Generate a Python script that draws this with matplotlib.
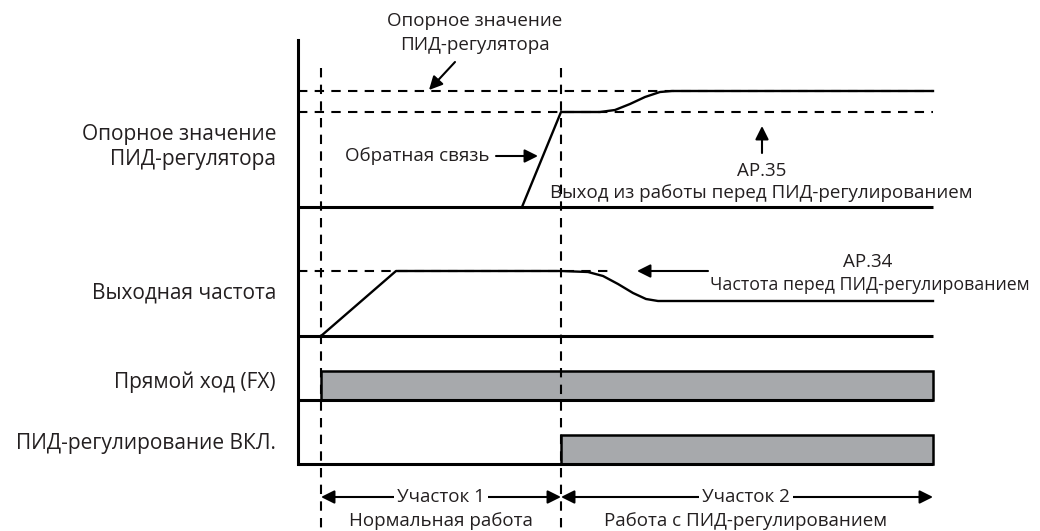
import matplotlib.pyplot as plt
from matplotlib.patches import Rectangle

plt.rcParams['font.family'] = ['Open Sans', 'DejaVu Sans']

# time marks (x, px) and signal levels (y, px)
t_start, t_pid, t_end = 321, 561, 933
axis_x, axis_top, axis_bottom = 298, 40, 464

# row 1: setpoint / feedback
sp_ref, sp_exit, sp_base = 91, 112, 207
fb_t = [522, 561, 600, 615, 630, 645, 660, 672, 933]
fb_lvl = [207, 112, 112, 110, 104, 97, 92, 91, 91]

# row 2: output frequency
fr_base, fr_run = 336, 271
fr_t = [321, 396, 561, 588, 603, 618, 633, 646, 658, 933]
fr_lvl = [336, 271, 271, 272, 276, 284, 293, 299, 301, 301]

# rows 3, 4: FX and PID-on signals
fx_base, fx_high = 400, 371
pid_base, pid_high = 464, 435

row_labels = ["Опорное значение\nПИД-регулятора", "Выходная частота",
              "Прямой ход (FX)", "ПИД-регулирование ВКЛ."]
row_label_y = [147, 293, 382, 443]

fig = plt.figure(figsize=(10.4, 5.31), dpi=100)
ax = fig.add_axes([0, 0, 1, 1])
ax.set_xlim(0, 1040)
ax.set_ylim(531, 0)
ax.axis('off')

k = 'black'
tc = '#231f20'
thick = 2.2
thin = 1.5
dash = (0, (4.5, 3.5))

# vertical axis and baselines
ax.plot([axis_x, axis_x], [axis_top, axis_bottom], color=k, lw=thick)
for yb in [sp_base, fr_base, fx_base, pid_base]:
    ax.plot([axis_x, t_end], [yb, yb], color=k, lw=thick, solid_capstyle='butt')

# dashed time markers
for tx in [t_start, t_pid]:
    ax.plot([tx, tx], [68, 531], color=k, lw=thin, linestyle=dash)

# dashed reference levels
ax.plot([axis_x, t_end], [sp_ref, sp_ref], color=k, lw=thin, linestyle=dash)
ax.plot([axis_x, t_end], [sp_exit, sp_exit], color=k, lw=thin, linestyle=dash)
ax.plot([axis_x, 608], [fr_run, fr_run], color=k, lw=thin, linestyle=dash)

# signals
ax.plot(fb_t, fb_lvl, color=k, lw=thin + 0.2)
ax.plot(fr_t, fr_lvl, color=k, lw=thin + 0.2)

gray = '#a7a9ac'
ax.add_patch(Rectangle((t_start, fx_high), t_end - t_start, fx_base - fx_high,
                       facecolor=gray, edgecolor=k, lw=thin + 0.3))
ax.add_patch(Rectangle((t_pid, pid_high), t_end - t_pid, pid_base - pid_high,
                       facecolor=gray, edgecolor=k, lw=thin + 0.3))

# row labels
fs_row = 15
fs = 13.5
for lab, yy in zip(row_labels, row_label_y):
    ax.text(276, yy, lab, ha='right', va='center', fontsize=fs_row,
            linespacing=1.3, color=tc)

arrow = dict(arrowstyle='-|>', color=k, lw=thin, mutation_scale=20,
             shrinkA=0, shrinkB=0)

# top setpoint annotation
ax.text(475, 33, "Опорное значение\nПИД-регулятора", ha='center', va='center',
        fontsize=fs, linespacing=1.4, color=tc)
ax.annotate('', xy=(429, 90), xytext=(455, 62), arrowprops=arrow)

# feedback annotation
ax.text(345, 156, "Обратная связь", ha='left', va='center', fontsize=fs,
        color=tc)
ax.annotate('', xy=(538, 156), xytext=(496, 156), arrowprops=arrow)

# AP.35
ax.annotate('', xy=(762, 126), xytext=(762, 153), arrowprops=arrow)
ax.text(762, 171, "AP.35", ha='center', va='center', fontsize=fs, color=tc)
ax.text(761, 193, "Выход из работы перед ПИД-регулированием", ha='center',
        va='center', fontsize=fs, color=tc)

# AP.34
ax.annotate('', xy=(637, 271), xytext=(708, 271), arrowprops=arrow)
ax.text(868, 262, "AP.34", ha='center', va='center', fontsize=fs, color=tc)
ax.text(870, 285, "Частота перед ПИД-регулированием", ha='center',
        va='center', fontsize=12.8, color=tc)

# sections
sec_y = 497
dbl = dict(arrowstyle='<|-|>', color=k, lw=thin, mutation_scale=20,
           shrinkA=0, shrinkB=0)
ax.annotate('', xy=(t_start, sec_y), xytext=(t_pid, sec_y), arrowprops=dbl)
ax.annotate('', xy=(t_pid, sec_y), xytext=(t_end, sec_y), arrowprops=dbl)
box = dict(facecolor='white', edgecolor='none', pad=2)
ax.text(441, sec_y, "Участок 1", ha='center', va='center', fontsize=fs,
        bbox=box, color=tc)
ax.text(746, sec_y, "Участок 2", ha='center', va='center', fontsize=fs,
        bbox=box, color=tc)
ax.text(441, 521, "Нормальная работа", ha='center', va='center', fontsize=fs,
        color=tc)
ax.text(746, 521, "Работа с ПИД-регулированием", ha='center', va='center',
        fontsize=fs, color=tc)

fig.savefig('out.png', dpi=100)
